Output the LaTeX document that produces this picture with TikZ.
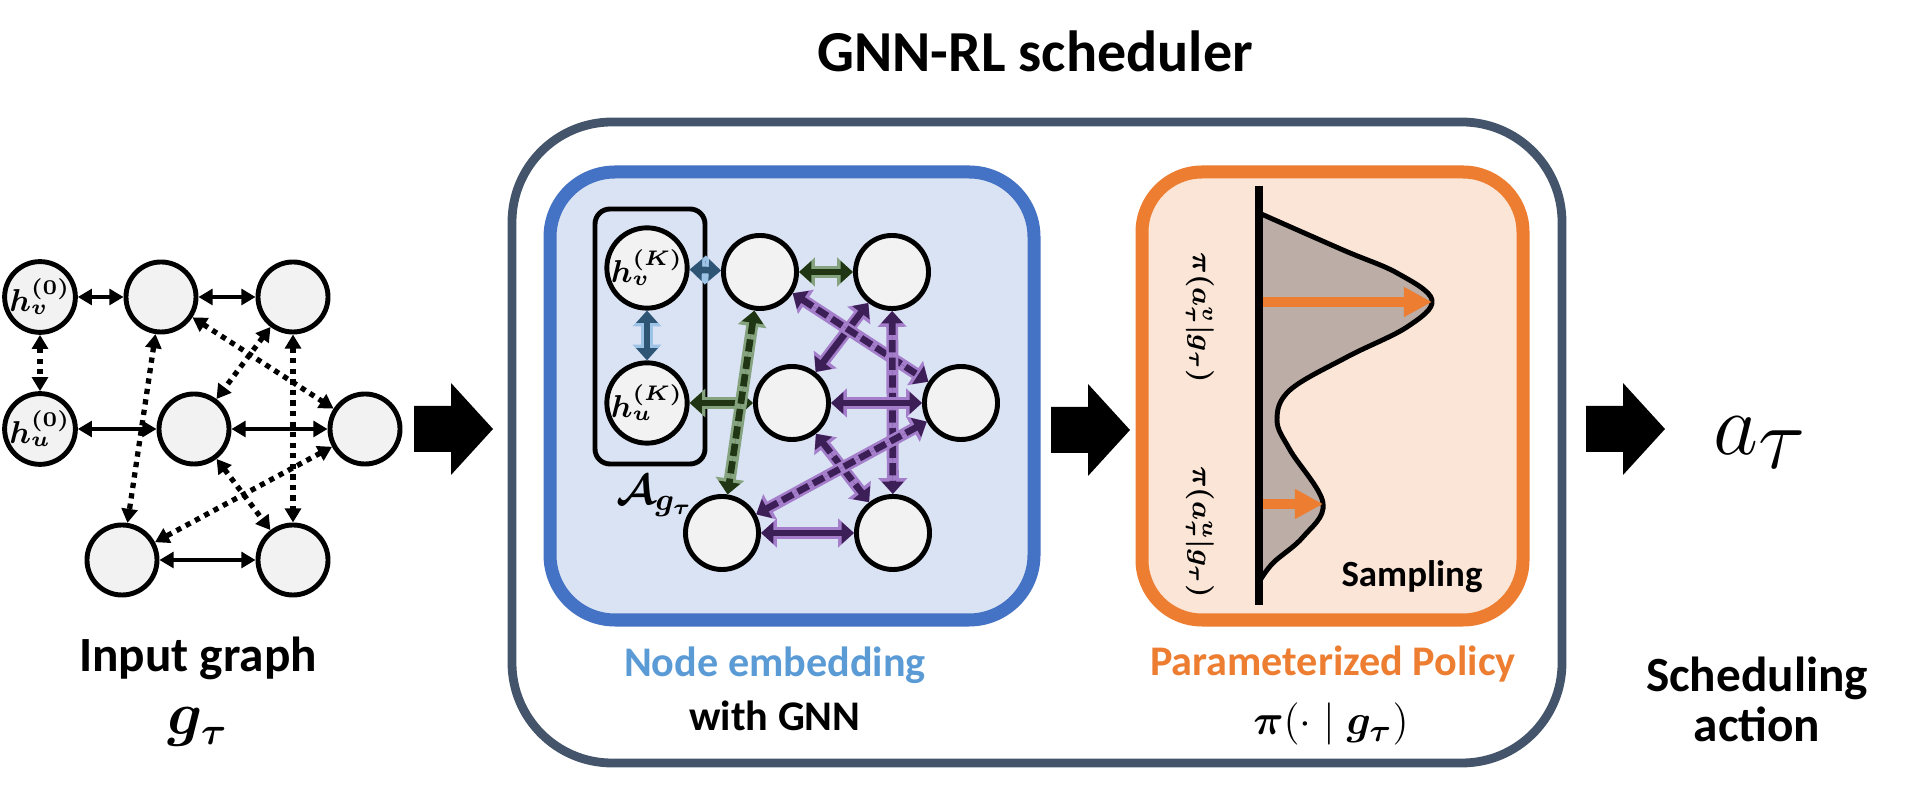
\documentclass[tikz,border=0pt]{standalone}
\usepackage{amsmath}
\usepackage{bm}
\usepackage[no-math]{fontspec}
\setmainfont{Carlito}
\usetikzlibrary{arrows.meta}

\definecolor{nodegray}{HTML}{F2F2F2}
\definecolor{slategray}{HTML}{44546A}
\definecolor{embblue}{HTML}{4472C4}
\definecolor{embfill}{HTML}{DAE3F3}
\definecolor{embtext}{HTML}{5B9BD5}
\definecolor{polorange}{HTML}{ED7D31}
\definecolor{polfill}{HTML}{FBE5D6}
\definecolor{densfill}{HTML}{BCAEA6}
\definecolor{bluelight}{HTML}{9DC3E6}
\definecolor{bluedark}{HTML}{2F5575}
\definecolor{greenlight}{HTML}{86A37F}
\definecolor{greendark}{HTML}{1F3513}
\definecolor{purplelight}{HTML}{A47ECB}
\definecolor{purpledark}{HTML}{3D1F57}

\tikzset{
  gnode/.style={circle, draw=black, line width=1.4pt, fill=nodegray, minimum size=0.70cm, inner sep=0pt,
    font=\fontsize{9}{10}\selectfont},
  enode/.style={gnode, minimum size=0.73cm, font=\fontsize{9}{10}\selectfont},
  biarrow/.style={{Triangle[length=4pt,width=4.5pt]}-{Triangle[length=4pt,width=4.5pt]}},
  solidedge/.style={biarrow, line width=0.9pt},
  dotedge/.style={biarrow, line width=1.5pt, dash pattern=on 1.5pt off 1.5pt},
  lightedge/.style={{Triangle[length=4.5pt,width=8pt]}-{Triangle[length=4.5pt,width=8pt]}, line width=3.4pt},
  darkedge/.style={{Triangle[length=3.5pt,width=6pt]}-{Triangle[length=3.5pt,width=6pt]}, line width=1.9pt},
  dashedge/.style={dash pattern=on 3.5pt off 1.5pt},
  polarrow/.style={-{Triangle[length=8pt,width=8pt]}, line width=2.6pt, draw=polorange, fill=polorange},
  boldtext/.style={font=\bfseries\fontsize{14}{16}\selectfont, anchor=base},
  captext/.style={font=\bfseries\fontsize{12}{14}\selectfont, anchor=base},
}

% two-layer edge of the embedding graph
\newcommand{\embedge}[5]{%
  \draw[lightedge, draw=#1, fill=#1] (#4) -- (#5);
  \draw[darkedge, draw=#2, fill=#2, #3] (#4) -- (#5);}

% big black block arrow, tail x and centre y
\newcommand{\blockarrow}[2]{%
  \fill (#1,#2-23) -- ++(37,0) -- ++(0,-23) -- ++(42,46) -- ++(-42,46)
    -- ++(0,-23) -- ++(-37,0) -- cycle;}

\begin{document}
\begin{tikzpicture}[x=0.01cm, y=-0.01cm]
    \useasboundingbox (0,0) rectangle (1912,795);

    % Title and outer box
    \node[anchor=base, font=\bfseries\fontsize{16.5}{20}\selectfont] (title) at (1035,72) {GNN-RL scheduler};
    \draw[draw=slategray, line width=2.5pt, rounded corners=1cm] (512,122) rectangle (1562,763);

    % Input graph
    \node[gnode] (v0) at (40,297) {$\bm{h_v^{(0)}}$};
    \node[gnode] (t1) at (161,297) {};
    \node[gnode] (t2) at (293,297) {};
    \node[gnode] (u0) at (40,429) {$\bm{h_u^{(0)}}$};
    \node[gnode] (m1) at (194,429) {};
    \node[gnode] (r1) at (365,429) {};
    \node[gnode] (b1) at (122,560) {};
    \node[gnode] (b2) at (293,560) {};

    \foreach \a/\b in {v0/t1, t1/t2, u0/m1, m1/r1, b1/b2} {
        \draw[solidedge] (\a) -- (\b);
    }
    \foreach \a/\b in {v0/u0, t1/b1, t2/m1, t1/r1, t2/b2, m1/b2, r1/b1} {
        \draw[dotedge] (\a) -- (\b);
    }

    \node[boldtext] (inlbl) at (198,672) {Input graph};
    \node[anchor=base, font=\fontsize{16}{18}\selectfont] (ingt) at (198,735) {$\bm{g_\tau}$};

    % Block arrows
    \blockarrow{414}{429}
    \blockarrow{1051}{430}
    \blockarrow{1586}{429}

    % Node embedding box
    \draw[draw=embblue, fill=embfill, line width=3.7pt, rounded corners=0.65cm] (550,172) rectangle (1034,620);
    \draw[line width=1.4pt, rounded corners=0.15cm] (595,209) rectangle (705,464);

    \node[enode] (hv) at (647,268) {$\bm{h_v^{(K)}}$};
    \node[enode] (hu) at (647,403) {$\bm{h_u^{(K)}}$};
    \node[enode] (e1) at (760,272) {};
    \node[enode] (e2) at (892,272) {};
    \node[enode] (e3) at (792,403) {};
    \node[enode] (e4) at (961,403) {};
    \node[enode] (e5) at (722,533) {};
    \node[enode] (e6) at (893,533) {};
    \node[font=\fontsize{13}{15}\selectfont] (agt) at (655,496) {$\bm{\mathcal{A}_{g_\tau}}$};

    \embedge{bluelight}{bluedark}{}{e1}{hv}
    \embedge{bluelight}{bluedark}{}{hu}{hv}
    \embedge{greenlight}{greendark}{}{e1}{e2}
    \embedge{greenlight}{greendark}{}{e3}{hu}
    \embedge{greenlight}{greendark}{dashedge}{e1}{e5}
    \embedge{purplelight}{purpledark}{}{e2}{e3}
    \embedge{purplelight}{purpledark}{dashedge}{e1}{e4}
    \embedge{purplelight}{purpledark}{dashedge}{e2}{e6}
    \embedge{purplelight}{purpledark}{}{e3}{e4}
    \embedge{purplelight}{purpledark}{dashedge}{e3}{e6}
    \embedge{purplelight}{purpledark}{dashedge}{e4}{e5}
    \embedge{purplelight}{purpledark}{}{e5}{e6}

    \node[captext, text=embtext] (emblbl) at (775,677) {Node embedding};
    \node[captext] (gnnlbl) at (775,731) {with GNN};

    % Parameterized policy box
    \draw[draw=polorange, fill=polfill, line width=3.7pt, rounded corners=0.6cm] (1142,172) rectangle (1523,620);
    \filldraw[fill=densfill, draw=black, line width=1.4pt] plot[smooth, tension=0.6] coordinates {
        (1259,213) (1343,250) (1397,273) (1432,300) (1407,327) (1347,357)
        (1290,390) (1277,420) (1290,450) (1323,503) (1303,537) (1273,563) (1259,582)} -- cycle;
    \coordinate (axtop) at (1259,186);
    \coordinate (axbot) at (1259,605);
    \draw[line width=2.3pt] (axtop) -- (axbot);

    \coordinate (basev) at (1263,302);
    \coordinate (peakv) at (1432,302);
    \coordinate (baseu) at (1263,504);
    \coordinate (peaku) at (1323,504);
    \draw[polarrow] (basev) -- (peakv);
    \draw[polarrow] (baseu) -- (peaku);

    \node[rotate=-90, font=\fontsize{8.2}{10}\selectfont] (probv) at (1200,318) {$\bm{\pi(a_\tau^v|g_\tau)}$};
    \node[rotate=-90, font=\fontsize{8.2}{10}\selectfont] (probu) at (1200,532) {$\bm{\pi(a_\tau^u|g_\tau)}$};
    \node[anchor=base, font=\bfseries\fontsize{10.5}{12}\selectfont] (samp) at (1412,587) {Sampling};

    \node[captext, text=polorange] (pollbl) at (1333,676) {Parameterized Policy};
    \node[anchor=base, font=\fontsize{13}{15}\selectfont] (polpi) at (1331,735) {$\bm{\pi}(\cdot\mid \bm{g_\tau})$};

    % Scheduling action
    \node[anchor=base west, inner sep=0pt, font=\fontsize{37}{42}\selectfont] (act) at (1713,455) {$a_\tau$};
    \node[boldtext] (actlbl) at (1757,692) {Scheduling};
    \node[boldtext] (actlbl2) at (1757,742) {action};
\end{tikzpicture}
\end{document}
